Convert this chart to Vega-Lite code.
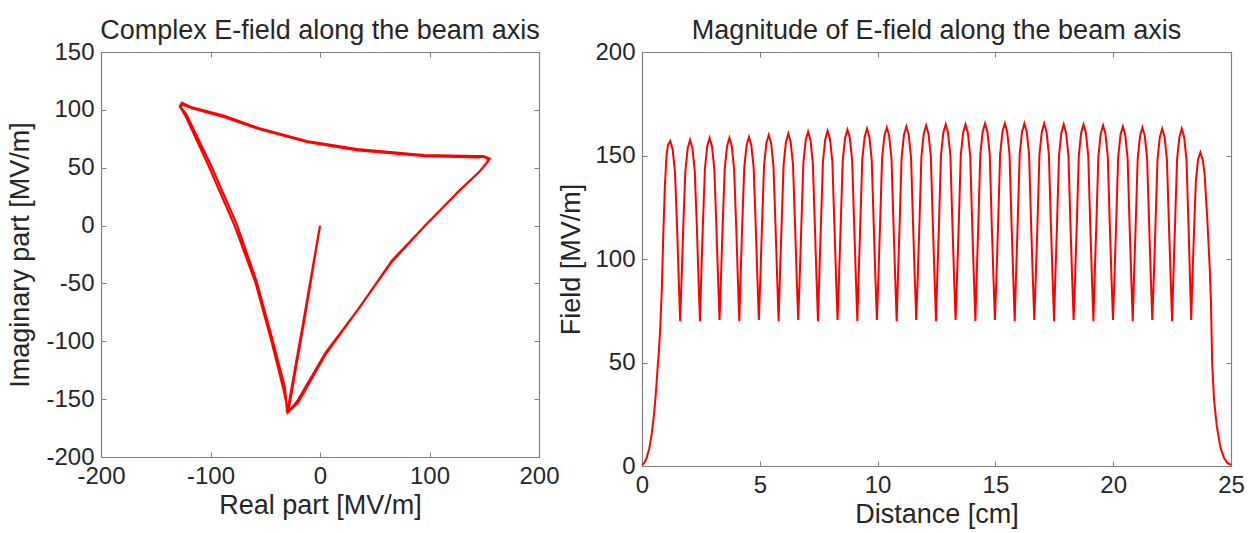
{
 "$schema": "https://vega.github.io/schema/vega-lite/v6.json",
 "padding": {"left": 6, "top": 17, "right": 5, "bottom": 5},
 "background": "white",
 "bounds": "flush",
 "spacing": 103,
 "config": {
   "font": "Liberation Sans",
   "view": {"stroke": null},
   "axis": {"grid": false, "domainColor": "#7f7f7f", "tickColor": "#7f7f7f", "tickSize": -5, "labelFontSize": 24, "labelColor": "#262626", "titleFontSize": 27, "titleFontWeight": "normal", "titleColor": "#262626", "labelPadding": 12, "labelFlush": false, "labelOverlap": false, "domainWidth": 1.2, "labelExpr": "'' + datum.value"},
   "title": {"fontSize": 27, "fontWeight": "normal", "color": "#262626", "offset": -5}
 },
 "hconcat": [
  {
   "title": "Complex E-field along the beam axis",
   "width": 438, "height": 405,
   "data": {"values": [
    {"i":0,"re":0,"im":0},{"i":1,"re":-14,"im":-80},{"i":2,"re":-29,"im":-161},{"i":3,"re":-20,"im":-153},{"i":4,"re":4.6,"im":-112},{"i":5,"re":35,"im":-72},{"i":6,"re":65,"im":-32},{"i":7,"re":96,"im":0},{"i":8,"re":126,"im":29},{"i":9,"re":145,"im":46},{"i":10,"re":152,"im":54},{"i":11,"re":154,"im":57},{"i":12,"re":150,"im":59.5},{"i":13,"re":144,"im":59},{"i":14,"re":96,"im":60},{"i":15,"re":35,"im":65},{"i":16,"re":-11,"im":72},{"i":17,"re":-56,"im":83.5},{"i":18,"re":-87,"im":93.6},{"i":19,"re":-117,"im":101.4},{"i":20,"re":-127,"im":105},{"i":21,"re":-128,"im":103},{"i":22,"re":-123,"im":95},{"i":23,"re":-102,"im":52},{"i":24,"re":-78,"im":0},{"i":25,"re":-59,"im":-49},{"i":26,"re":-44,"im":-101},{"i":27,"re":-33.5,"im":-141},{"i":28,"re":-29,"im":-161},
    {"i":29,"re":-21,"im":-152},{"i":30,"re":5,"im":-110},{"i":31,"re":36,"im":-71},{"i":32,"re":66,"im":-30},{"i":33,"re":97,"im":1},{"i":34,"re":127,"im":30},{"i":35,"re":146,"im":47},{"i":36,"re":153,"im":55},{"i":37,"re":155,"im":58},{"i":38,"re":149,"im":60},{"i":39,"re":143,"im":60},{"i":40,"re":95,"im":61},{"i":41,"re":34,"im":66},{"i":42,"re":-12,"im":73},{"i":43,"re":-57,"im":84.5},{"i":44,"re":-88,"im":95},{"i":45,"re":-118,"im":102.5},{"i":46,"re":-126,"im":106},{"i":47,"re":-127,"im":102},{"i":48,"re":-122,"im":96},{"i":49,"re":-100,"im":53},{"i":50,"re":-76,"im":1},{"i":51,"re":-58,"im":-48},{"i":52,"re":-43,"im":-100},{"i":53,"re":-32,"im":-140},{"i":54,"re":-30,"im":-162},{"i":55,"re":-15,"im":-82},{"i":56,"re":0,"im":0}
   ]},
   "layer": [
    {"mark": {"type": "line", "color": "#ff0000", "strokeWidth": 2.2},
     "encoding": {
      "x": {"field": "re", "type": "quantitative", "scale": {"domain": [-200, 200], "nice": false, "zero": false}, "axis": {"values": [-200, -100, 0, 100, 200], "title": "Real part [MV/m]"}},
      "y": {"field": "im", "type": "quantitative", "scale": {"domain": [-200, 150], "nice": false, "zero": false}, "axis": {"values": [-200, -150, -100, -50, 0, 50, 100, 150], "title": "Imaginary part [MV/m]", "titlePadding": 11}},
      "order": {"field": "i", "type": "quantitative"}
     }},
    {"mark": {"type": "line", "opacity": 0},
     "encoding": {
      "x": {"field": "re", "type": "quantitative", "scale": {"domain": [-200, 200], "nice": false, "zero": false}, "axis": {"orient": "top", "values": [-200, -100, 0, 100, 200], "labels": false, "title": null}},
      "y": {"field": "im", "type": "quantitative", "scale": {"domain": [-200, 150], "nice": false, "zero": false}, "axis": {"orient": "right", "values": [-200, -150, -100, -50, 0, 50, 100, 150], "labels": false, "title": null}},
      "order": {"field": "i", "type": "quantitative"}
     }}
   ],
   "resolve": {"axis": {"x": "independent", "y": "independent"}}
  },
  {
   "title": "Magnitude of E-field along the beam axis",
   "width": 589, "height": 414,
   "data": {"values": [
    {"d":0,"f":0.5},{"d":0.1,"f":1.5},{"d":0.2,"f":4},{"d":0.31,"f":8.5},{"d":0.42,"f":16},{"d":0.52,"f":26},{"d":0.6,"f":37},{"d":0.66,"f":47},{"d":0.72,"f":56},{"d":0.78,"f":68},{"d":0.84,"f":85},{"d":0.9,"f":110},{"d":0.97,"f":135},{"d":1.04,"f":150},{"d":1.1,"f":155},{"d":1.2,"f":157},
    {"d":1.30,"f":153},{"d":1.40,"f":142},{"d":1.49,"f":115},{"d":1.56,"f":90},{"d":1.62,"f":70},{"d":1.68,"f":90},{"d":1.75,"f":115},{"d":1.84,"f":142.5},{"d":1.94,"f":153.5},{"d":2.04,"f":157.5},
    {"d":2.14,"f":153.5},{"d":2.24,"f":142.5},{"d":2.33,"f":115},{"d":2.40,"f":90},{"d":2.46,"f":70},{"d":2.51,"f":90},{"d":2.58,"f":115},{"d":2.67,"f":143.5},{"d":2.77,"f":154.5},{"d":2.87,"f":158.5},
    {"d":2.97,"f":154.5},{"d":3.07,"f":143.5},{"d":3.16,"f":115},{"d":3.23,"f":90},{"d":3.29,"f":70.5},{"d":3.35,"f":90},{"d":3.42,"f":115},{"d":3.51,"f":143.5},{"d":3.61,"f":154.5},{"d":3.71,"f":158.5},
    {"d":3.81,"f":154.5},{"d":3.91,"f":143.5},{"d":4.00,"f":115},{"d":4.07,"f":90},{"d":4.13,"f":70},{"d":4.18,"f":90},{"d":4.25,"f":115},{"d":4.34,"f":144},{"d":4.44,"f":155},{"d":4.54,"f":159},
    {"d":4.64,"f":155},{"d":4.74,"f":144},{"d":4.83,"f":115},{"d":4.90,"f":90},{"d":4.96,"f":70.5},{"d":5.02,"f":90},{"d":5.09,"f":115},{"d":5.18,"f":145},{"d":5.28,"f":156},{"d":5.38,"f":160},
    {"d":5.48,"f":156},{"d":5.58,"f":145},{"d":5.67,"f":115},{"d":5.74,"f":90},{"d":5.80,"f":70},{"d":5.85,"f":90},{"d":5.92,"f":115},{"d":6.01,"f":145.5},{"d":6.11,"f":156.5},{"d":6.21,"f":160.5},
    {"d":6.31,"f":156.5},{"d":6.41,"f":145.5},{"d":6.50,"f":115},{"d":6.57,"f":90},{"d":6.63,"f":70.5},{"d":6.69,"f":90},{"d":6.76,"f":115},{"d":6.85,"f":146.5},{"d":6.95,"f":157.5},{"d":7.05,"f":161.5},
    {"d":7.15,"f":157.5},{"d":7.25,"f":146.5},{"d":7.34,"f":115},{"d":7.41,"f":90},{"d":7.47,"f":70},{"d":7.52,"f":90},{"d":7.59,"f":115},{"d":7.68,"f":147},{"d":7.78,"f":158},{"d":7.88,"f":162},
    {"d":7.98,"f":158},{"d":8.08,"f":147},{"d":8.17,"f":115},{"d":8.24,"f":90},{"d":8.30,"f":70.5},{"d":8.36,"f":90},{"d":8.43,"f":115},{"d":8.52,"f":147.5},{"d":8.62,"f":158.5},{"d":8.72,"f":162.5},
    {"d":8.82,"f":158.5},{"d":8.92,"f":147.5},{"d":9.01,"f":115},{"d":9.08,"f":90},{"d":9.14,"f":70},{"d":9.19,"f":90},{"d":9.26,"f":115},{"d":9.35,"f":148},{"d":9.45,"f":159},{"d":9.55,"f":163},
    {"d":9.65,"f":159},{"d":9.75,"f":148},{"d":9.84,"f":115},{"d":9.91,"f":90},{"d":9.97,"f":70.5},{"d":10.03,"f":90},{"d":10.10,"f":115},{"d":10.19,"f":148.5},{"d":10.29,"f":159.5},{"d":10.39,"f":163.5},
    {"d":10.49,"f":159.5},{"d":10.59,"f":148.5},{"d":10.68,"f":115},{"d":10.75,"f":90},{"d":10.81,"f":70},{"d":10.86,"f":90},{"d":10.93,"f":115},{"d":11.02,"f":149},{"d":11.12,"f":160},{"d":11.22,"f":164},
    {"d":11.32,"f":160},{"d":11.42,"f":149},{"d":11.51,"f":115},{"d":11.58,"f":90},{"d":11.64,"f":70.5},{"d":11.70,"f":90},{"d":11.77,"f":115},{"d":11.86,"f":149.5},{"d":11.96,"f":160.5},{"d":12.06,"f":164.5},
    {"d":12.16,"f":160.5},{"d":12.26,"f":149.5},{"d":12.35,"f":115},{"d":12.42,"f":90},{"d":12.48,"f":70},{"d":12.53,"f":90},{"d":12.60,"f":115},{"d":12.69,"f":150},{"d":12.79,"f":161},{"d":12.89,"f":165},
    {"d":12.99,"f":161},{"d":13.09,"f":150},{"d":13.18,"f":115},{"d":13.25,"f":90},{"d":13.31,"f":70.5},{"d":13.37,"f":90},{"d":13.44,"f":115},{"d":13.53,"f":150},{"d":13.63,"f":161},{"d":13.73,"f":165},
    {"d":13.83,"f":161},{"d":13.93,"f":150},{"d":14.02,"f":115},{"d":14.09,"f":90},{"d":14.15,"f":70},{"d":14.20,"f":90},{"d":14.27,"f":115},{"d":14.36,"f":150.5},{"d":14.46,"f":161.5},{"d":14.56,"f":165.5},
    {"d":14.66,"f":161.5},{"d":14.76,"f":150.5},{"d":14.85,"f":115},{"d":14.92,"f":90},{"d":14.98,"f":70.5},{"d":15.04,"f":90},{"d":15.11,"f":115},{"d":15.20,"f":150.5},{"d":15.30,"f":161.5},{"d":15.40,"f":165.5},
    {"d":15.50,"f":161.5},{"d":15.60,"f":150.5},{"d":15.69,"f":115},{"d":15.76,"f":90},{"d":15.82,"f":70},{"d":15.87,"f":90},{"d":15.94,"f":115},{"d":16.03,"f":150.5},{"d":16.13,"f":161.5},{"d":16.23,"f":165.5},
    {"d":16.33,"f":161.5},{"d":16.43,"f":150.5},{"d":16.52,"f":115},{"d":16.59,"f":90},{"d":16.65,"f":70.5},{"d":16.71,"f":90},{"d":16.78,"f":115},{"d":16.87,"f":150.5},{"d":16.97,"f":161.5},{"d":17.07,"f":165.5},
    {"d":17.17,"f":161.5},{"d":17.27,"f":150.5},{"d":17.36,"f":115},{"d":17.43,"f":90},{"d":17.49,"f":70},{"d":17.54,"f":90},{"d":17.61,"f":115},{"d":17.70,"f":150},{"d":17.80,"f":161},{"d":17.90,"f":165},
    {"d":18.00,"f":161},{"d":18.10,"f":150},{"d":18.19,"f":115},{"d":18.26,"f":90},{"d":18.32,"f":70.5},{"d":18.38,"f":90},{"d":18.45,"f":115},{"d":18.54,"f":150},{"d":18.64,"f":161},{"d":18.74,"f":165},
    {"d":18.84,"f":161},{"d":18.94,"f":150},{"d":19.03,"f":115},{"d":19.10,"f":90},{"d":19.16,"f":70},{"d":19.21,"f":90},{"d":19.28,"f":115},{"d":19.37,"f":149.5},{"d":19.47,"f":160.5},{"d":19.57,"f":164.5},
    {"d":19.67,"f":160.5},{"d":19.77,"f":149.5},{"d":19.86,"f":115},{"d":19.93,"f":90},{"d":19.99,"f":70.5},{"d":20.05,"f":90},{"d":20.12,"f":115},{"d":20.21,"f":149},{"d":20.31,"f":160},{"d":20.41,"f":164},
    {"d":20.51,"f":160},{"d":20.61,"f":149},{"d":20.70,"f":115},{"d":20.77,"f":90},{"d":20.83,"f":70},{"d":20.88,"f":90},{"d":20.95,"f":115},{"d":21.04,"f":148.5},{"d":21.14,"f":159.5},{"d":21.24,"f":163.5},
    {"d":21.34,"f":159.5},{"d":21.44,"f":148.5},{"d":21.53,"f":115},{"d":21.60,"f":90},{"d":21.66,"f":70.5},{"d":21.72,"f":90},{"d":21.79,"f":115},{"d":21.88,"f":148},{"d":21.98,"f":159},{"d":22.08,"f":163},
    {"d":22.18,"f":159},{"d":22.28,"f":148},{"d":22.37,"f":115},{"d":22.44,"f":90},{"d":22.50,"f":70},{"d":22.55,"f":90},{"d":22.62,"f":115},{"d":22.71,"f":148},{"d":22.81,"f":159},{"d":22.91,"f":163},
    {"d":23.01,"f":159},{"d":23.11,"f":148},{"d":23.20,"f":115},{"d":23.26,"f":90},{"d":23.31,"f":70.5},{"d":23.36,"f":90},{"d":23.42,"f":110},{"d":23.51,"f":138},{"d":23.60,"f":148},{"d":23.70,"f":151.5},
    {"d":23.80,"f":148},{"d":23.88,"f":141},{"d":24.00,"f":118},{"d":24.10,"f":95},{"d":24.15,"f":79},{"d":24.20,"f":50},{"d":24.28,"f":32},{"d":24.40,"f":19},{"d":24.55,"f":9},{"d":24.70,"f":4},{"d":24.85,"f":1.5},{"d":25.0,"f":0.5}
   ]},
   "layer": [
    {"mark": {"type": "line", "color": "#ff0000", "strokeWidth": 2},
     "encoding": {
      "x": {"field": "d", "type": "quantitative", "scale": {"domain": [0, 25], "nice": false}, "axis": {"values": [0, 5, 10, 15, 20, 25], "title": "Distance [cm]"}},
      "y": {"field": "f", "type": "quantitative", "scale": {"domain": [0, 200], "nice": false}, "axis": {"values": [0, 50, 100, 150, 200], "title": "Field [MV/m]", "titlePadding": 9}}
     }},
    {"mark": {"type": "line", "opacity": 0},
     "encoding": {
      "x": {"field": "d", "type": "quantitative", "scale": {"domain": [0, 25], "nice": false}, "axis": {"orient": "top", "values": [0, 5, 10, 15, 20, 25], "labels": false, "title": null}},
      "y": {"field": "f", "type": "quantitative", "scale": {"domain": [0, 200], "nice": false}, "axis": {"orient": "right", "values": [0, 50, 100, 150, 200], "labels": false, "title": null}}
     }}
   ],
   "resolve": {"axis": {"x": "independent", "y": "independent"}}
  }
 ]
}
